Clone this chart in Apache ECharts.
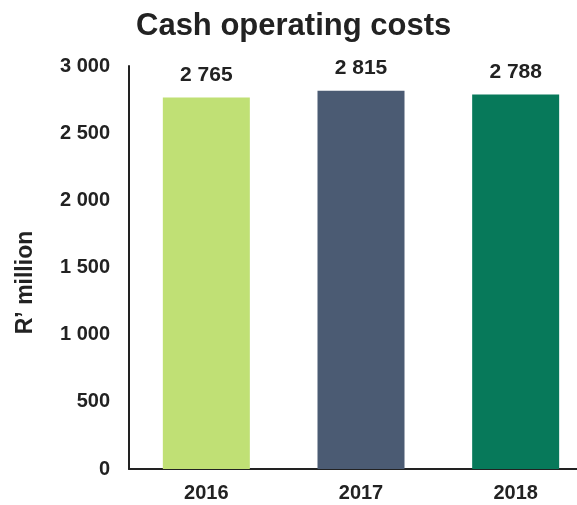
<!DOCTYPE html>
<html>
<head>
<meta charset="utf-8">
<script src="https://cdn.jsdelivr.net/npm/echarts@6/dist/echarts.min.js"></script>
<style>
  html, body { margin: 0; padding: 0; background: #fff; }
  #chart { width: 577px; height: 505px; }
</style>
</head>
<body>
<div id="chart"></div>
<script>
// data
const years = ['2016', '2017', '2018']
const costs = [2765, 2815, 2788]
const barColors = ['#c0e075', '#4b5b73', '#07795a']

// thousands with a space, e.g. 2 765
const fmt = v => String(v).replace(/\B(?=(\d{3})+(?!\d))/g, ' ')

const chart = echarts.init(document.getElementById('chart'))
const font = 'Liberation Sans, Arial, sans-serif'

const option = {
  animation: false,
  title: {
    text: 'Cash operating costs',
    left: 131,
    top: 6,
    textStyle: { fontFamily: font, fontSize: 31, fontWeight: 'bold', color: '#222' }
  },
  grid: { left: 129, top: 66, width: 464, height: 403, outerBoundsMode: 'none', containLabel: false },
  xAxis: {
    type: 'category',
    data: years,
    axisLine: { lineStyle: { color: '#222', width: 2 } },
    axisTick: { show: false },
    axisLabel: { fontFamily: font, fontSize: 20, fontWeight: 'bold', color: '#222', margin: 14 }
  },
  yAxis: {
    type: 'value',
    min: 0,
    max: 3000,
    interval: 500,
    name: 'R\u2019 million',
    nameLocation: 'middle',
    nameRotate: 90,
    nameGap: 92,
    nameTextStyle: { fontFamily: font, fontSize: 23, fontWeight: 'bold', color: '#222', padding: [0, 30, 0, 0] },
    axisLine: { show: true, lineStyle: { color: '#222', width: 2 } },
    axisTick: { show: false },
    splitLine: { show: false },
    axisLabel: { fontFamily: font, fontSize: 20, fontWeight: 'bold', color: '#222', margin: 19, formatter: fmt }
  },
  series: [{
    type: 'bar',
    barWidth: 87,
    data: costs.map((v, i) => ({ value: v, itemStyle: { color: barColors[i] } })),
    label: {
      show: true,
      position: 'top',
      distance: 12,
      fontFamily: font,
      fontSize: 21,
      fontWeight: 'bold',
      color: '#222',
      formatter: p => fmt(p.value)
    }
  }]
}

chart.setOption(option)
</script>
</body>
</html>
